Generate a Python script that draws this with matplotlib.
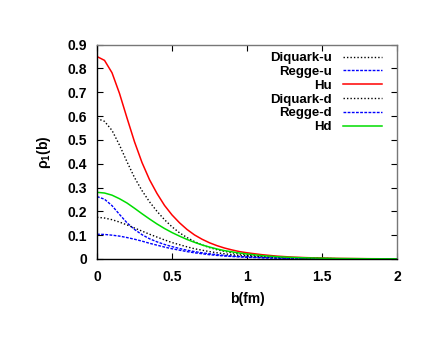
import matplotlib
matplotlib.use('Agg')
import matplotlib.pyplot as plt

# impact parameter grid (fm)
b = [0.0, 0.05, 0.1, 0.15, 0.2, 0.25, 0.3, 0.35, 0.4, 0.45, 0.5, 0.55, 0.6, 0.65,
     0.7, 0.75, 0.8, 0.85, 0.9, 0.95, 1.0, 1.1, 1.2, 1.3, 1.4, 1.6, 1.8, 2.0]

diquark_u = [0.590, 0.578, 0.540, 0.478, 0.408, 0.342, 0.287, 0.240, 0.200, 0.165,
             0.135, 0.110, 0.090, 0.073, 0.059, 0.048, 0.039, 0.032, 0.026, 0.021,
             0.017, 0.011, 0.007, 0.0045, 0.003, 0.0013, 0.0006, 0.0003]
regge_u = [0.262, 0.251, 0.224, 0.187, 0.152, 0.124, 0.102, 0.085, 0.072, 0.061,
           0.052, 0.044, 0.037, 0.031, 0.026, 0.022, 0.018, 0.015, 0.0125, 0.0105,
           0.0088, 0.006, 0.004, 0.0027, 0.0018, 0.0008, 0.0004, 0.0002]
hu = [0.850, 0.834, 0.782, 0.695, 0.592, 0.492, 0.405, 0.333, 0.275, 0.225,
      0.185, 0.152, 0.124, 0.101, 0.083, 0.068, 0.056, 0.046, 0.038, 0.031,
      0.026, 0.018, 0.012, 0.008, 0.0055, 0.0025, 0.0012, 0.0006]
diquark_d = [0.175, 0.172, 0.165, 0.155, 0.143, 0.130, 0.117, 0.104, 0.092, 0.080,
             0.069, 0.060, 0.051, 0.043, 0.037, 0.031, 0.026, 0.022, 0.018, 0.015,
             0.013, 0.009, 0.006, 0.004, 0.0027, 0.0012, 0.0006, 0.0003]
regge_d = [0.104, 0.103, 0.100, 0.096, 0.090, 0.083, 0.075, 0.066, 0.058, 0.050,
           0.043, 0.037, 0.031, 0.026, 0.022, 0.018, 0.015, 0.0125, 0.0105, 0.0087,
           0.0072, 0.005, 0.0034, 0.0023, 0.0016, 0.0007, 0.0003, 0.0002]
hd = [0.280, 0.277, 0.268, 0.253, 0.235, 0.213, 0.190, 0.168, 0.147, 0.128,
      0.111, 0.096, 0.082, 0.070, 0.059, 0.050, 0.042, 0.035, 0.030, 0.025,
      0.021, 0.014, 0.0095, 0.0065, 0.0045, 0.002, 0.001, 0.0005]

plt.rcParams['font.family'] = ['Liberation Sans', 'DejaVu Sans']
plt.rcParams['font.weight'] = 'bold'
plt.rcParams['font.size'] = 9.5
plt.rcParams['mathtext.fontset'] = 'custom'
plt.rcParams['mathtext.rm'] = 'Liberation Sans'
plt.rcParams['mathtext.bf'] = 'Liberation Sans:bold'

fig = plt.figure(figsize=(4.36, 3.37), dpi=100)
ax = fig.add_axes([0.2225, 0.2315, 0.688, 0.636])

ax.plot(b, diquark_u, color='black', lw=1.0, dashes=(1, 1.5), label='Diquark-u')
ax.plot(b, regge_u, color='blue', lw=1.0, dashes=(2, 1), label='Regge-u')
ax.plot(b, hu, color='red', lw=1.1, label='Hu')
ax.plot(b, diquark_d, color='black', lw=1.0, dashes=(1, 1.5), label='Diquark-d')
ax.plot(b, regge_d, color='blue', lw=1.0, dashes=(2, 1), label='Regge-d')
ax.plot(b, hd, color='#00dd00', lw=1.1, label='Hd')

ax.set_xlim(0, 2)
ax.set_ylim(0, 0.9)
ax.set_xticks([0, 0.5, 1, 1.5, 2])
ax.set_xticklabels(['0', '0.5', '1', '1.5', '2'])
ax.set_yticks([i / 10 for i in range(10)])
ax.set_yticklabels(['0'] + ['%.1f' % (i / 10) for i in range(1, 10)])
ax.tick_params(direction='in', top=True, right=True, length=4, width=0.8,
               labelsize=10)
ax.tick_params(axis='x', pad=8)
ax.tick_params(axis='y', pad=7)
for s in ['top', 'right']:
    ax.spines[s].set_color('#777777')
for s in ax.spines.values():
    s.set_linewidth(1.0)

ax.set_xlabel('b(fm)', fontweight='bold', fontsize=10, labelpad=6)
ax.set_ylabel(r'ρ$_\mathrm{1}$(b)', fontweight='bold', fontsize=10, labelpad=11)

leg = ax.legend(loc='upper right', bbox_to_anchor=(0.975, 1.0), frameon=False,
                markerfirst=False, handlelength=3.0, handletextpad=0.8,
                labelspacing=0.12, borderaxespad=0.15)
leg._legend_box.align = 'right'

fig.savefig('out.png', dpi=100)
